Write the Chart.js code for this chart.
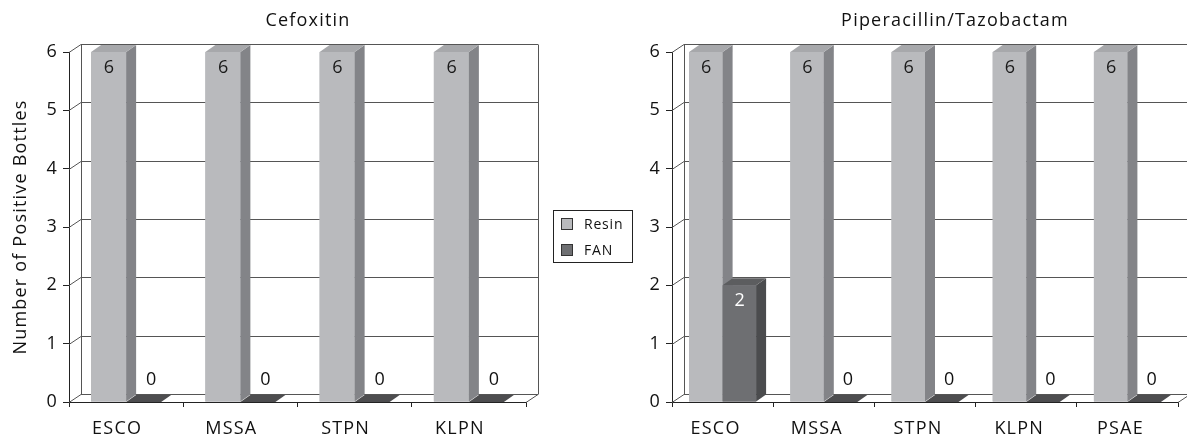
<!DOCTYPE html>
<html>
<head>
<meta charset="utf-8">
<script src="https://cdn.jsdelivr.net/npm/chart.js@4.4.0/dist/chart.umd.min.js"></script>
<style>
  body { margin: 0; background: #fff; width: 1187px; height: 438px; overflow: hidden; position: relative; font-family: "Open Sans", sans-serif; }
  canvas { position: absolute; top: 0; }
  #leftChart { left: 0; }
  #rightChart { left: 620px; }
  #legend { position: absolute; left: 553px; top: 210px; width: 78px; height: 51px; border: 1px solid #222; font-size: 14px; letter-spacing: 0.8px; color: #111; }
  .item { position: absolute; left: 7px; display: flex; align-items: center; line-height: 14px; }
  .sw { width: 12px; height: 12px; border: 1px solid #333; margin-right: 11px; box-sizing: border-box; }
</style>
</head>
<body>
<canvas id="leftChart" width="545" height="438"></canvas>
<canvas id="rightChart" width="567" height="438"></canvas>
<div id="legend">
  <div class="item" style="top:6px"><span class="sw" id="swResin"></span><span>Resin</span></div>
  <div class="item" style="top:32px"><span class="sw" id="swFan"></span><span>FAN</span></div>
</div>
<script>
var seriesNames = ['Resin', 'FAN'];

var cefoxitinLabels = ['ESCO', 'MSSA', 'STPN', 'KLPN'];
var cefoxitinResin = [6, 6, 6, 6];
var cefoxitinFan = [0, 0, 0, 0];

var pipTazLabels = ['ESCO', 'MSSA', 'STPN', 'KLPN', 'PSAE'];
var pipTazResin = [6, 6, 6, 6, 6];
var pipTazFan = [2, 0, 0, 0, 0];

var yMin = 0, yMax = 6, yStep = 1;

var faces = [
  { front: '#b9babd', side: '#838488', top: '#a7a8ab', flat: '#a7a8ab', text: '#1a1a1a' },
  { front: '#6e6f72', side: '#4b4c4e', top: '#5c5d5f', flat: '#4d4d4f', text: '#ffffff' }
];
var font = '"Open Sans", sans-serif';
var fontSize = 18;
var spacing = '1.2px';
var ink = '#111';

document.getElementById('swResin').style.background = faces[0].front;
document.getElementById('swFan').style.background = faces[1].front;

function poly(ctx, pts) {
  ctx.beginPath();
  ctx.moveTo(pts[0], pts[1]);
  for (var k = 2; k < pts.length; k += 2) ctx.lineTo(pts[k], pts[k + 1]);
  ctx.closePath();
  ctx.fill();
}

var pseudo3d = {
  id: 'pseudo3d',
  beforeUpdate: function(chart) { chart.ctx.letterSpacing = spacing; },
  beforeDraw: function(chart) { chart.ctx.letterSpacing = spacing; },
  beforeDatasetsDraw: function(chart, args, opts) {
    var ctx = chart.ctx, a = chart.chartArea, ys = chart.scales.y;
    var dx = opts.wallDx, dy = opts.wallDy;
    var top = Math.round(ys.getPixelForValue(ys.max)) + 0.5;
    var bot = Math.round(ys.getPixelForValue(ys.min)) + 0.5;
    ctx.save();
    ctx.strokeStyle = opts.gridColor;
    ctx.lineWidth = 1;
    ctx.beginPath();
    ys.ticks.forEach(function(t) {
      var py = Math.round(ys.getPixelForValue(t.value)) + 0.5;
      ctx.moveTo(a.left, py);
      ctx.lineTo(a.left + dx, py + dy);
      ctx.lineTo(a.right + dx, py + dy);
    });
    ctx.moveTo(a.left + dx + 0.5, top + dy);
    ctx.lineTo(a.left + dx + 0.5, bot + dy);
    ctx.moveTo(a.right + dx + 0.5, top + dy);
    ctx.lineTo(a.right + dx + 0.5, bot + dy);
    ctx.moveTo(a.right, bot);
    ctx.lineTo(a.right + dx, bot + dy);
    ctx.stroke();

    ctx.font = fontSize + 'px ' + font;
    ctx.fillStyle = ink;
    ctx.textAlign = 'center';
    ctx.textBaseline = 'middle';
    ctx.fillText(opts.title, opts.titleX, opts.titleY);
    ctx.restore();
  },
  afterDatasetsDraw: function(chart, args, opts) {
    var ctx = chart.ctx;
    var bdx = opts.barDx, bdy = opts.barDy;
    var n = chart.data.labels.length;
    var boxes = [];
    ctx.save();
    for (var i = 0; i < n; i++) {
      chart.data.datasets.forEach(function(ds, d) {
        var p = chart.getDatasetMeta(d).data[i].getProps(['x', 'y', 'base', 'width'], true);
        var l = p.x - p.width / 2, r = p.x + p.width / 2;
        var t = Math.min(p.y, p.base), b = p.base;
        var c = faces[d];
        ctx.fillStyle = c.front;
        ctx.fillRect(l, t, r - l, b - t);
        ctx.fillStyle = c.side;
        poly(ctx, [r, t, r + bdx, t + bdy, r + bdx, b + bdy, r, b]);
        ctx.fillStyle = ds.data[i] === 0 ? c.flat : c.top;
        poly(ctx, [l, t, l + bdx, t + bdy, r + bdx, t + bdy, r, t]);
        boxes.push({ x: p.x, t: t, b: b, v: ds.data[i], c: c });
      });
    }
    ctx.font = fontSize + 'px ' + font;
    ctx.textAlign = 'center';
    ctx.textBaseline = 'middle';
    boxes.forEach(function(bx) {
      if (bx.v > 0) {
        ctx.fillStyle = bx.c.text;
        ctx.fillText(String(bx.v), bx.x + 1, bx.t + 16);
      } else {
        ctx.fillStyle = ink;
        ctx.fillText(String(bx.v), bx.x + 8, bx.b - 22);
      }
    });
    ctx.restore();
  }
};

function makeChart(id, labels, resin, fan, cfg) {
  return new Chart(document.getElementById(id).getContext('2d'), {
    type: 'bar',
    data: {
      labels: labels,
      datasets: [
        { label: seriesNames[0], data: resin, backgroundColor: faces[0].front, borderWidth: 0 },
        { label: seriesNames[1], data: fan, backgroundColor: faces[1].front, borderWidth: 0 }
      ]
    },
    options: {
      responsive: false,
      animation: false,
      events: [],
      layout: { padding: { top: 52, right: cfg.padRight, left: 0, bottom: 0 } },
      datasets: { bar: { categoryPercentage: cfg.catPct, barPercentage: 1.0 } },
      scales: {
        x: {
          afterFit: function(s) { s.height = 36; },
          grid: { offset: true, drawOnChartArea: false, tickLength: 5, color: '#222' },
          border: { display: true, color: '#222' },
          ticks: { font: { family: font, size: fontSize }, color: ink, padding: 11, labelOffset: cfg.labelOffset }
        },
        y: {
          min: yMin, max: yMax,
          afterFit: function(s) { s.width = cfg.yWidth; },
          grid: { drawOnChartArea: false, tickLength: 6, color: '#222' },
          border: { display: true, color: '#222' },
          ticks: { stepSize: yStep, font: { family: font, size: fontSize }, color: ink, padding: 5 },
          title: {
            display: !!cfg.yTitle,
            text: cfg.yTitle || '',
            font: { family: font, size: fontSize },
            color: ink,
            padding: { top: 10, bottom: 0 }
          }
        }
      },
      plugins: {
        legend: { display: false },
        tooltip: { enabled: false },
        pseudo3d: {
          wallDx: 12, wallDy: -8, barDx: 10, barDy: -7,
          gridColor: '#555',
          title: cfg.title, titleX: cfg.titleX, titleY: 21
        }
      }
    },
    plugins: [pseudo3d]
  });
}

makeChart('leftChart', cefoxitinLabels, cefoxitinResin, cefoxitinFan, {
  title: 'Cefoxitin', titleX: 308, padRight: 19, yWidth: 69, catPct: 0.613,
  labelOffset: -9, yTitle: 'Number of Positive Bottles'
});

makeChart('rightChart', pipTazLabels, pipTazResin, pipTazFan, {
  title: 'Piperacillin/Tazobactam', titleX: 335, padRight: 9, yWidth: 52, catPct: 0.662,
  labelOffset: -7
});
</script>
</body>
</html>
